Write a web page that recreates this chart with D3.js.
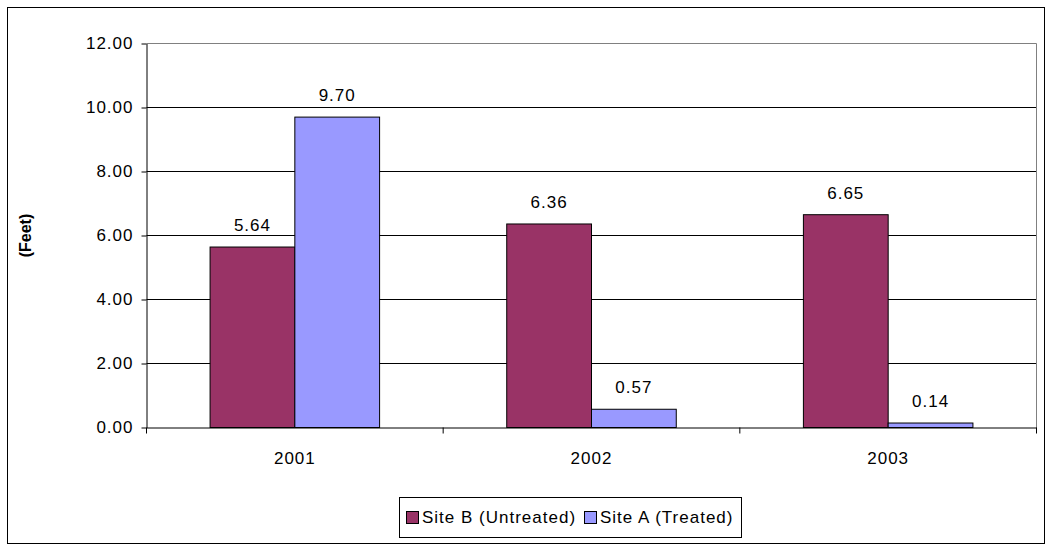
<!DOCTYPE html>
<html>
<head>
<meta charset="utf-8">
<script src="https://cdn.jsdelivr.net/npm/d3@7"></script>
<style>
  body { margin: 0; background: #fff; }
  svg { display: block; font-family: "Liberation Sans", Arial, sans-serif; }
  svg text { letter-spacing: 1px; }
</style>
</head>
<body>
<div id="chart"></div>
<script>
// données
const years = ['2001', '2002', '2003'];
const seriesNames = ['Site B (Untreated)', 'Site A (Treated)'];
const siteB = [5.64, 6.36, 6.65];
const siteA = [9.70, 0.57, 0.14];
const yTicks = [0, 2, 4, 6, 8, 10, 12];
const colors = ['#993366', '#9999ff'];

const width = 1052, height = 550;
const margin = { left: 146.5, right: 1052 - 1036.5, top: 43.5, bottom: 550 - 427.5 };
const fontSize = '17px';

const svg = d3.select('#chart').append('svg')
    .attr('width', width)
    .attr('height', height);

// cadre extérieur
svg.append('rect')
    .attr('x', 7.5).attr('y', 7.5)
    .attr('width', 1037).attr('height', 536)
    .attr('fill', '#fff')
    .attr('stroke', '#000');

const x = d3.scaleBand()
    .domain(years)
    .range([margin.left, width - margin.right]);

const y = d3.scaleLinear()
    .domain([0, 12])
    .range([height - margin.bottom, margin.top]);

// grille
svg.append('g')
    .selectAll('line')
    .data(yTicks.filter(d => d > 0 && d < 12))
    .enter()
    .append('line')
    .attr('x1', margin.left).attr('x2', width - margin.right)
    .attr('y1', d => y(d)).attr('y2', d => y(d))
    .attr('stroke', '#000');

// bord de la zone de tracé
svg.append('path')
    .attr('d', `M${margin.left},${y(12)}H${width - margin.right}V${y(0)}`)
    .attr('fill', 'none')
    .attr('stroke', '#808080');

// barres
const bw = x.bandwidth() / 3.5;
const series = [siteB, siteA];
series.forEach((vals, si) => {
    svg.append('g')
        .selectAll('rect')
        .data(vals)
        .enter()
        .append('rect')
        .attr('x', (d, i) => x(years[i]) + bw * 0.75 + si * bw)
        .attr('y', d => y(d))
        .attr('width', bw)
        .attr('height', d => y(0) - y(d))
        .attr('fill', colors[si])
        .attr('stroke', '#000')
        .attr('stroke-width', 1);

    svg.append('g')
        .selectAll('text')
        .data(vals)
        .enter()
        .append('text')
        .attr('x', (d, i) => x(years[i]) + bw * 0.75 + si * bw + bw / 2)
        .attr('y', d => y(d) - 16)
        .attr('text-anchor', 'middle')
        .style('font-size', fontSize)
        .attr('fill', '#000')
        .text(d => d.toFixed(2));
});

// axe Y
const yAxis = svg.append('g')
    .attr('transform', `translate(${margin.left},0)`)
    .call(d3.axisLeft(y).tickValues(yTicks).tickFormat(d3.format('.2f')).tickSize(5).tickSizeOuter(0));
yAxis.select('.domain').attr('stroke', '#000');
yAxis.selectAll('.tick line').attr('stroke', '#000');
yAxis.selectAll('.tick text')
    .attr('x', -13)
    .style('font-size', fontSize)
    .style('font-family', '"Liberation Sans", Arial, sans-serif')
    .attr('fill', '#000');

// axe X
const xAxis = svg.append('g')
    .attr('transform', `translate(0,${y(0)})`)
    .call(d3.axisBottom(x).tickSize(0).tickSizeOuter(0));
xAxis.select('.domain').attr('stroke', '#000');
xAxis.selectAll('.tick text')
    .attr('y', 24)
    .style('font-size', fontSize)
    .style('font-family', '"Liberation Sans", Arial, sans-serif')
    .attr('fill', '#000');
svg.append('g')
    .selectAll('line')
    .data(years.map(d => x(d)).concat([x(years[2]) + x.bandwidth()]))
    .enter()
    .append('line')
    .attr('x1', d => d).attr('x2', d => d)
    .attr('y1', y(0)).attr('y2', y(0) + 6)
    .attr('stroke', '#000');

// titre de l'axe Y
svg.append('text')
    .attr('transform', `translate(31,${(y(0) + y(12)) / 2}) rotate(-90)`)
    .attr('text-anchor', 'middle')
    .style('font-size', '16px')
    .style('font-weight', 'bold')
    .style('letter-spacing', '0px')
    .text('(Feet)');

// légende : largeur calculée à partir des textes
const legend = svg.append('g');
const legendBox = legend.append('rect')
    .attr('y', 497.5)
    .attr('height', 40)
    .attr('fill', '#fff')
    .attr('stroke', '#000');
let lx = 0;
const items = seriesNames.map((name, i) => {
    const g = legend.append('g');
    g.append('rect')
        .attr('x', 0.5).attr('y', 511.5)
        .attr('width', 12).attr('height', 12)
        .attr('fill', colors[i])
        .attr('stroke', '#000');
    const t = g.append('text')
        .attr('x', 16)
        .attr('y', 523)
        .style('font-size', fontSize)
        .text(name);
    const w = 16 + t.node().getComputedTextLength();
    g.attr('transform', `translate(${lx},0)`);
    lx += w + 8;
    return g;
});
const legendW = lx - 8 + 14;
const legendX = 570 - legendW / 2;
legendBox.attr('x', Math.round(legendX) + 0.5).attr('width', Math.round(legendW));
items.forEach((g, i) => {
    const cur = g.attr('transform').match(/translate\(([-\d.]+)/)[1];
    g.attr('transform', `translate(${Math.round(legendX + 7 + +cur)},0)`);
});
</script>
</body>
</html>
